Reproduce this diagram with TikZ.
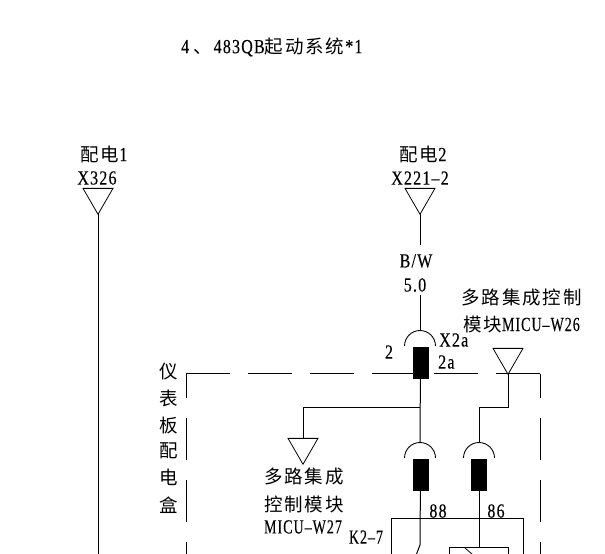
\documentclass[tikz,border=0pt]{standalone}
\usepackage{fontspec}
\setmainfont[FakeStretch=0.8,LetterSpace=6,FakeBold=0.2]{Liberation Serif}
\newfontfamily\cjk[LetterSpace=10]{Noto Sans CJK SC}
\newfontfamily\caps[FakeStretch=0.7,LetterSpace=5,FakeBold=0.2]{Liberation Serif}
\newcommand{\zh}[1]{{\cjk\fontsize{18.5}{20}\selectfont #1}}
\usetikzlibrary{calc,shapes}
\tikzset{
    wire/.style={line width=1pt},
    txt/.style={inner sep=0pt,font=\fontsize{20}{24}\selectfont},
    tri/.style={draw,regular polygon,regular polygon sides=3,shape border rotate=180,
        minimum size=34.6pt,inner sep=0pt,outer sep=0pt,line width=0.8pt},
    plug/.style={draw,fill=black,rectangle,minimum width=15pt,minimum height=31pt,inner sep=0pt,outer sep=0pt}
}
\begin{document}
\begin{tikzpicture}[x=1pt,y=-1pt]
    \useasboundingbox (0,0) rectangle (605,554);
    % title
    \node[txt,anchor=west] (title) at (181,47) {4\hspace{4pt}\zh{、}\hspace{2pt}483QB\zh{起动系统}\hspace{1pt}*1};

    % left feed
    \node[txt] (l1) at (104,154) {\zh{配电}1};
    \node[txt] (l2) at (97,178) {X326};
    \node[tri] (t1) at (98,197) {};
    \coordinate (e1) at (98,554);
    \draw[wire] (t1.corner 1) -- (e1);

    % right feed
    \node[txt] (r1) at (423,154) {\zh{配电}2};
    \node[txt] (r2) at (420,178) {X221–2};
    \node[tri] (t2) at (420,197) {};
    \node[txt] (bw) at (416,261) {B/W};
    \node[txt] (wd) at (415,285) {5.0};
    \coordinate (w1) at (420,245);
    \coordinate (w2) at (420,295);
    \coordinate (s1) at (420,330);
    \node[plug] (p1) at (420.5,363) {};
    \draw[wire] (t2.corner 1) -- (w1);
    \draw[wire] (w2) -- (s1);
    \draw[line width=0.9pt] (404.5,346) arc[start angle=180,end angle=0,radius=15.5pt];
    \node[txt,anchor=west] (x2a) at (439,340) {X2a};
    \node[txt] (n2) at (389,352) {2};
    \node[txt,anchor=west] (n2a) at (438,362) {2a};

    % module W26
    \node[txt] (m1) at (521.5,298) {\zh{多路集成控制}};
    \node[txt] (m2) at (521.5,324) {\zh{模块}{\caps MICU–W26}};
    \node[tri] (t3) at (508,357) {};

    % dashed box
    \coordinate (a) at (186,373.5);
    \coordinate (b) at (540,373.5);
    \draw[wire,dash pattern=on 44pt off 18pt] (a) -- (b);
    \draw[wire,dash pattern=on 42pt off 20pt,dash phase=18pt] (a) -- (186,554);
    \draw[wire,dash pattern=on 42pt off 20pt,dash phase=18pt] (b) -- (540,554);
    \node[txt] (b1) at (169,372) {\zh{仪}};
    \node[txt] (b2) at (169,398) {\zh{表}};
    \node[txt] (b3) at (169,425) {\zh{板}};
    \node[txt] (b4) at (169,451) {\zh{配}};
    \node[txt] (b5) at (169,477) {\zh{电}};
    \node[txt] (b6) at (169,505) {\zh{盒}};

    % module W27
    \coordinate (j1) at (420,407.5);
    \node[tri] (t4) at (303,447) {};
    \node[txt] (k1) at (304,477) {\zh{多路集成}};
    \node[txt] (k2) at (304,504) {\zh{控制模块}};
    \node[txt] (k3) at (303,527) {\caps MICU–W27};
    \node[txt] (k4) at (366,537) {\caps K2–7};
    \draw[wire] (t4.north) -- (t4.north |- j1) -- (j1);

    % relay side
    \coordinate (s2) at (420,442);
    \coordinate (s3) at (479,442);
    \node[plug] (p2) at (420.5,474.5) {};
    \node[plug] (p3) at (479,474.5) {};
    \draw[wire] (p1) -- (s2);
    \draw[line width=0.9pt] (404.5,458) arc[start angle=180,end angle=0,radius=15.5pt];
    \draw[line width=0.9pt] (463.5,458) arc[start angle=180,end angle=0,radius=15.5pt];
    \coordinate (j2) at (479,407.5);
    \draw[wire] (s3) -- (j2) -- (j2 -| t3.corner 1) -- (t3.corner 1);
    \node[txt] (n88) at (438,511) {88};
    \node[txt] (n86) at (496,511) {86};

    % relay
    \coordinate (c1) at (420,545);
    \coordinate (c2) at (416.5,554);
    \coordinate (c3) at (479,547.5);
    \draw[wire] (p2) -- (c1) -- (c2);
    \draw[wire] (p3) -- (c3);
    \draw[wire] (391.5,554) -- (391.5,518.5) -- (523,518.5) -- (523,554);
    \draw[wire] (449.5,554) -- (449.5,547.5) -- (508,547.5) -- (508,554);
    \draw[line width=0.8pt] (465,548) -- (472,554);
\end{tikzpicture}
\end{document}
